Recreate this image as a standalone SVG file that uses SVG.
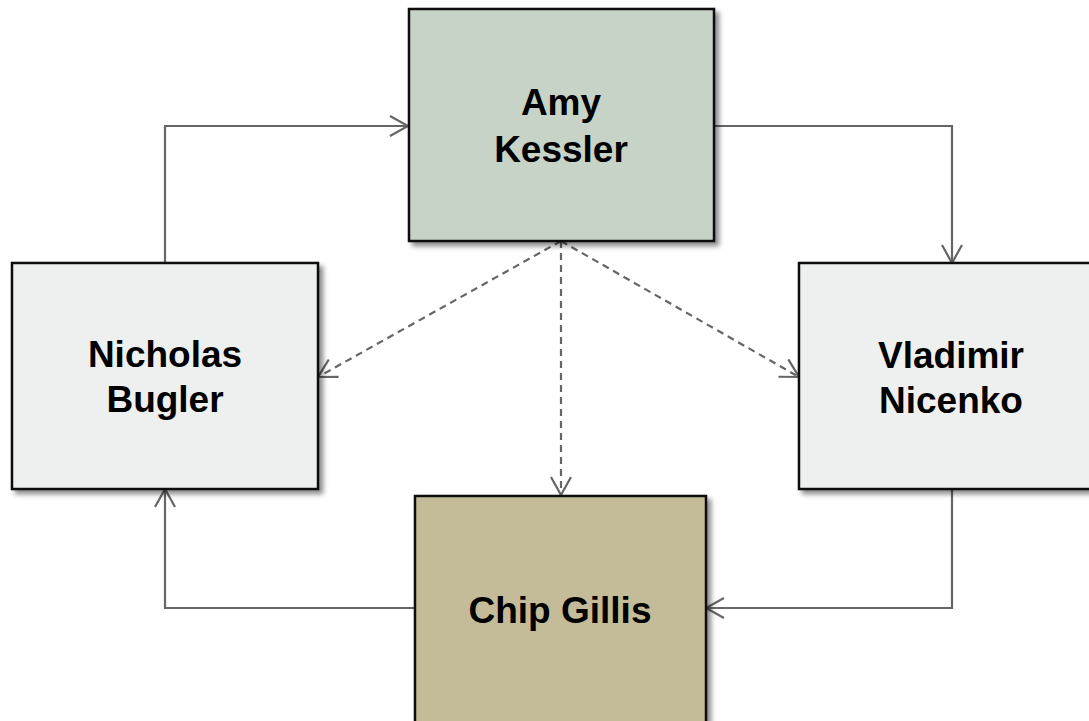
<svg xmlns="http://www.w3.org/2000/svg" width="1089" height="721" viewBox="0 0 1089 721">
  <defs>
    <filter id="shadow" x="-10%" y="-10%" width="125%" height="125%">
      <feDropShadow dx="4" dy="4" stdDeviation="2.5" flood-color="#000" flood-opacity="0.45"/>
    </filter>
    <marker id="open-arrow" markerUnits="userSpaceOnUse" markerWidth="22" markerHeight="24" refX="19" refY="11" orient="auto">
      <path d="M1,1 L19,11 L1,21" fill="none" stroke="#666" stroke-width="2.2"/>
    </marker>
  </defs>
  <style>
    .box { stroke: #111; stroke-width: 2.5; filter: url(#shadow); }
    .label { font-family: "Liberation Sans", Arial, sans-serif; font-weight: bold; font-size: 37px; fill: #000; text-anchor: middle; }
    .link { fill: none; stroke: #666; stroke-width: 2.2; marker-end: url(#open-arrow); }
    .dash { stroke-dasharray: 7 5; }
  </style>
  <rect width="1089" height="721" fill="#fff"/>

  <g id="connectors">
    <path class="link" d="M165,263 V126 H408"/>
    <path class="link" d="M714,126 H952 V263"/>
    <path class="link" d="M952,489 V608 H706"/>
    <path class="link" d="M415,608 H165 V489"/>
    <path class="link dash" d="M561,241 L318,377"/>
    <path class="link dash" d="M561,241 L799,377"/>
    <path class="link dash" d="M561,241 V495"/>
  </g>

  <g id="amy-kessler">
    <rect class="box" x="409" y="9" width="305" height="232" fill="#c8d3c7"/>
    <text class="label" x="561" y="115">Amy</text>
    <text class="label" x="561" y="162">Kessler</text>
  </g>

  <g id="nicholas-bugler">
    <rect class="box" x="12" y="263" width="306" height="226" fill="#eef0ef"/>
    <text class="label" x="165" y="367">Nicholas</text>
    <text class="label" x="165" y="412">Bugler</text>
  </g>

  <g id="vladimir-nicenko">
    <rect class="box" x="799" y="263" width="306" height="226" fill="#eef0ef"/>
    <text class="label" x="951" y="368">Vladimir</text>
    <text class="label" x="951" y="413">Nicenko</text>
  </g>

  <g id="chip-gillis">
    <rect class="box" x="415" y="496" width="291" height="235" fill="#c4bc98"/>
    <text class="label" x="560" y="623">Chip Gillis</text>
  </g>
</svg>
